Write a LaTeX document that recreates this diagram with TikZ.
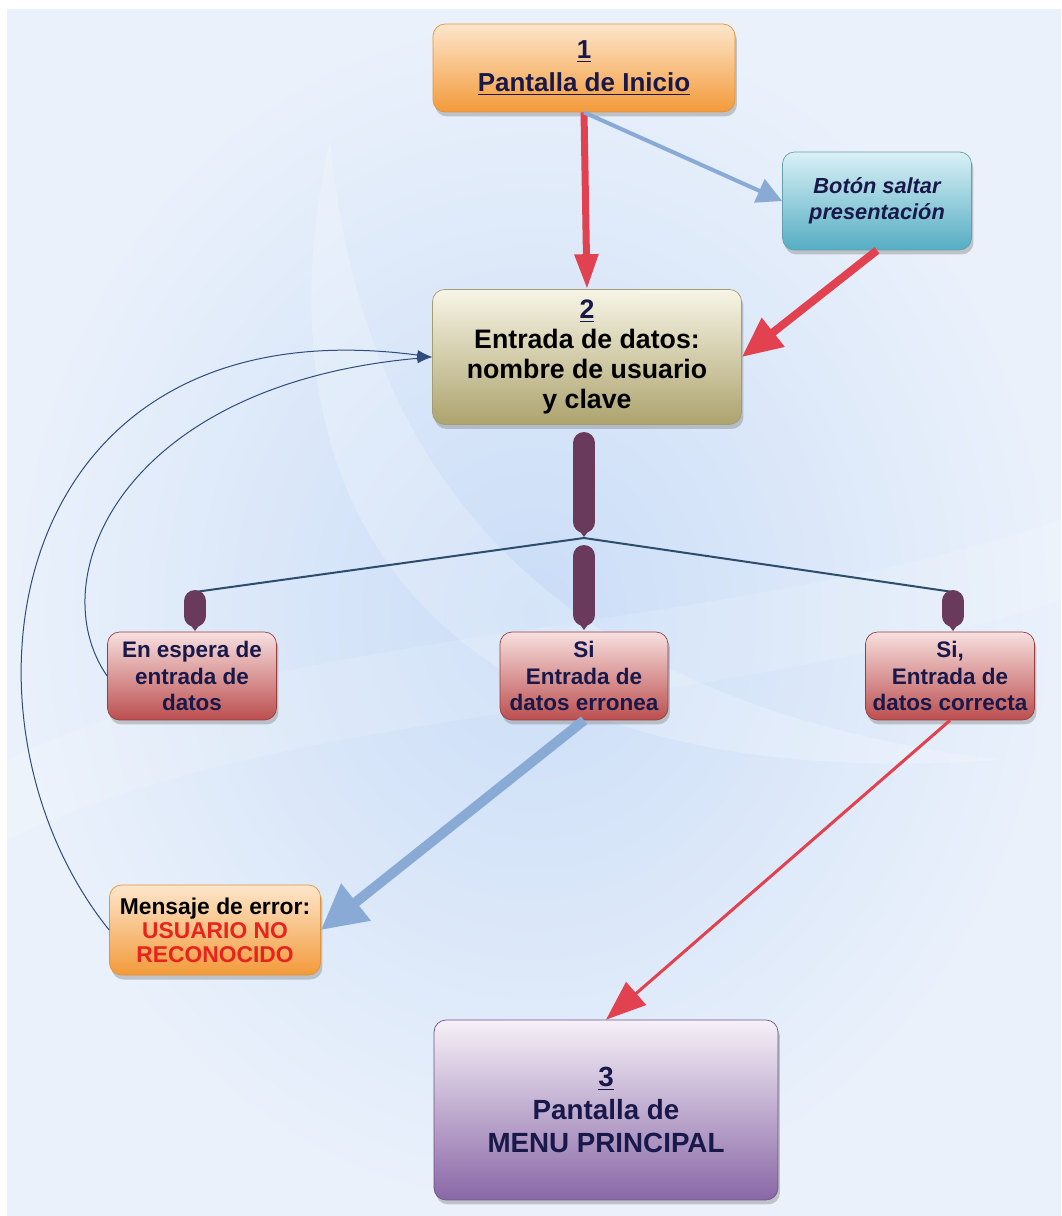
\documentclass[tikz,border=0pt]{standalone}
\usepackage{fontspec}
\setmainfont{Liberation Sans}
\usetikzlibrary{arrows.meta,shadows}

\definecolor{navy}{HTML}{18184A}
\definecolor{msgred}{HTML}{E8221C}
\definecolor{arrred}{HTML}{E2414F}
\definecolor{arrblue}{HTML}{8AAAD6}
\definecolor{curveblue}{HTML}{2F4C7C}
\definecolor{stemcol}{HTML}{6A3A5C}
\definecolor{treeline}{HTML}{2D4D6D}
\definecolor{orangetop}{HTML}{FDE6CB}
\definecolor{orangebot}{HTML}{F39A3A}
\definecolor{cyantop}{HTML}{D9F1F6}
\definecolor{cyanbot}{HTML}{55ADC3}
\definecolor{khakitop}{HTML}{F7F5E6}
\definecolor{khakibot}{HTML}{ADA36E}
\definecolor{redtop}{HTML}{F8E0E0}
\definecolor{redbot}{HTML}{BC4E4E}
\definecolor{purpletop}{HTML}{F6F1F8}
\definecolor{purplebot}{HTML}{8967A6}
\definecolor{bginner}{HTML}{CADDF7}
\definecolor{bgouter}{HTML}{EAF1FB}

\begin{document}
\begin{tikzpicture}[x=0.02cm,y=-0.02cm]
\tikzstyle{box}=[rectangle,rounded corners=0.24cm,align=center,font=\bfseries,text=navy,
  drop shadow={shadow xshift=0.04cm,shadow yshift=-0.09cm,opacity=0.4}]
\tikzstyle{orangebox}=[box,draw=orangebot!70!brown,top color=orangetop,bottom color=orangebot]
\tikzstyle{cyanbox}=[box,draw=cyanbot!70!gray,top color=cyantop,bottom color=cyanbot]
\tikzstyle{khakibox}=[box,draw=khakibot!80!gray,top color=khakitop,bottom color=khakibot]
\tikzstyle{redbox}=[box,draw=redbot!80!black,top color=redtop,bottom color=redbot]
\tikzstyle{purplebox}=[box,draw=purplebot!80!black,top color=purpletop,bottom color=purplebot]
\tikzstyle{fat}=[line width=0.14cm,arrred,-{Triangle[width=0.45cm,length=0.7cm]}]
\tikzstyle{loop}=[curveblue,line width=0.02cm,-{Latex[length=0.3cm,width=0.2cm]}]
\tikzstyle{stem}=[stemcol,line width=0.44cm,line cap=round]

\useasboundingbox (0,0) rectangle (1061,1216);
\fill[white] (0,0) rectangle (1061,1216);
\shade[inner color=bginner,outer color=bgouter] (7,10) rectangle (1061,1216);
\fill[white,opacity=0.22] (330,140) .. controls (250,500) and (420,800) .. (1000,760)
  .. controls (520,700) and (360,450) .. (330,140);
\fill[white,opacity=0.15] (7,760) .. controls (300,620) and (700,640) .. (1061,520)
  -- (1061,600) .. controls (700,720) and (300,700) .. (7,840) -- cycle;

\node[orangebox,minimum width=6.04cm,minimum height=1.76cm,font=\bfseries\fontsize{14.8}{18.5}\selectfont] (start) at (584,68) {\underline{1}\\\underline{Pantalla de Inicio}};
\node[cyanbox,minimum width=3.78cm,minimum height=1.96cm,font=\bfseries\itshape\fontsize{12.4}{14.7}\selectfont] (skip) at (877,201) {Botón saltar\\presentación};
\node[khakibox,minimum width=6.18cm,minimum height=2.7cm,text=black,font=\bfseries\fontsize{15.2}{17}\selectfont] (login) at (587,357) {\textcolor{navy}{\underline{2}}\\Entrada de datos:\\nombre de usuario\\y clave};

\node[redbox,minimum width=3.38cm,minimum height=1.76cm,font=\bfseries\fontsize{12.8}{15}\selectfont] (wait) at (192,676) {En espera de\\entrada de\\datos};
\node[redbox,minimum width=3.36cm,minimum height=1.76cm,font=\bfseries\fontsize{12.8}{15}\selectfont] (wrong) at (584,676) {Si\\Entrada de\\datos erronea};
\node[redbox,minimum width=3.38cm,minimum height=1.76cm,font=\bfseries\fontsize{12.8}{15}\selectfont] (right) at (950,676) {Si,\\Entrada de\\datos correcta};

\node[orangebox,minimum width=4.22cm,minimum height=1.8cm,text=black,font=\bfseries\fontsize{13}{13.6}\selectfont] (msg) at (215,930) {Mensaje de error:\\\textcolor{msgred}{USUARIO NO}\\\textcolor{msgred}{RECONOCIDO}};
\node[purplebox,minimum width=6.88cm,minimum height=3.6cm,font=\bfseries\fontsize{15.8}{19}\selectfont] (menu) at (606,1110) {\underline{3}\\Pantalla de\\MENU PRINCIPAL};

\draw[fat] (start.south) to (login.north);
\draw[line width=0.08cm,arrblue,-{Triangle[width=0.5cm,length=0.5cm]}] (start.south) to (skip.west);
\draw[fat,line width=0.16cm,-{Triangle[width=0.7cm,length=0.8cm]}] (skip.south) to (login.east);

\coordinate (j) at (584,538);
\coordinate (jl) at (195,592);
\coordinate (jr) at (953,592);
\draw[treeline,line width=0.04cm] (jl) -- (j) -- (jr);
\foreach \x/\a/\b in {584/443/522,584/556/615,195/601/616,953/601/616}
{
  \draw[stem] (\x,\a) -- (\x,\b);
  \fill[stemcol] (\x-11,\b) -- (\x+11,\b) -- (\x,\b+15) -- cycle;
}

\draw[loop] (wait.west) .. controls (40,580) and (120,385) .. (login.west);
\draw[loop] (msg.west) .. controls (-60,720) and (0,300) .. (login.west);

\draw[line width=0.2cm,arrblue,-{Triangle[width=0.9cm,length=0.9cm]}] (wrong.south) to (msg.east);
\draw[line width=0.06cm,arrred,-{Triangle[width=0.6cm,length=0.8cm]}] (right.south) to (menu.north);

\end{tikzpicture}
\end{document}
